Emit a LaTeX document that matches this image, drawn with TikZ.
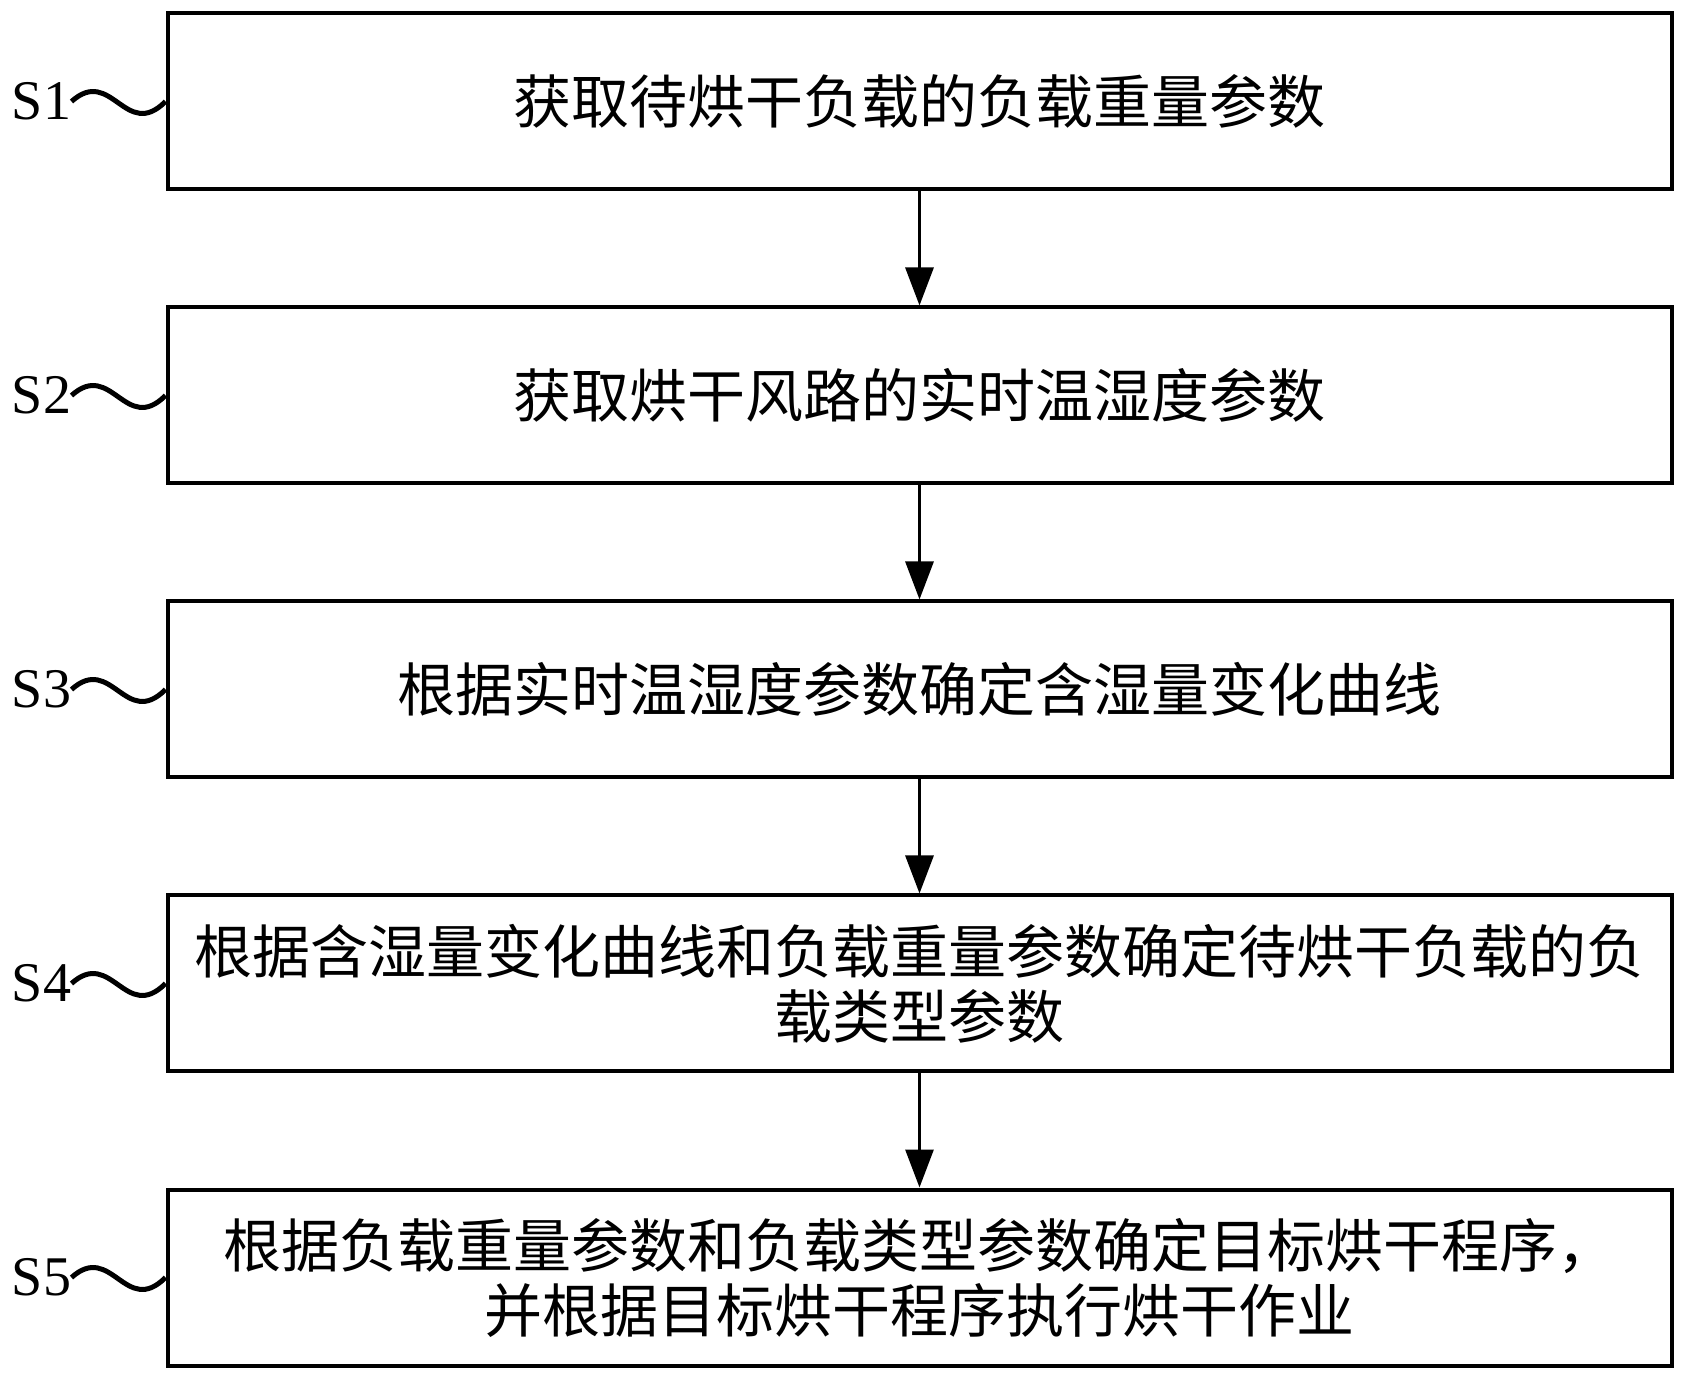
\documentclass[tikz,border=0pt]{standalone}
\usepackage{fontspec}
\setmainfont{Liberation Serif}
\newfontfamily\cjk{Noto Sans CJK SC}
\usetikzlibrary{positioning,arrows.meta}

\begin{document}
\begin{tikzpicture}[
  x=0.5pt, y=-0.5pt,
  stepbox/.style={
    rectangle, draw, line width=2pt,
    minimum width=752pt, minimum height=88pt,
    align=center, font=\cjk\fontsize{29}{32.5}\selectfont
  },
  steplabel/.style={inner sep=0pt, font=\fontsize{28}{28}\selectfont},
  node distance=57pt,
  flow/.style={line width=1.5pt, -{Triangle[length=19pt, width=14pt]}},
  wave/.style={line width=2.5pt}
]
\useasboundingbox (0,0) rectangle (1688,1384);

\node[stepbox] (b1) at (919.5,101.5) {获取待烘干负载的负载重量参数};
\node[stepbox, below=of b1] (b2) {获取烘干风路的实时温湿度参数};
\node[stepbox, below=of b2] (b3) {根据实时温湿度参数确定含湿量变化曲线};
\node[stepbox, below=of b3] (b4) {根据含湿量变化曲线和负载重量参数确定待烘干负载的负\\载类型参数};
\node[stepbox, below=of b4] (b5) {根据负载重量参数和负载类型参数确定目标烘干程序，\\并根据目标烘干程序执行烘干作业};

% arrows between steps
\foreach \i/\j in {1/2,2/3,3/4,4/5}
  \draw[flow] (b\i) -- (b\j);

% step labels
\foreach \i in {1,...,5} {
  \node[steplabel, left=47pt of b\i.west] (s\i) {S\i};
  \draw[wave] (s\i.east) .. controls +(20pt,18pt) and +(-20pt,-20pt) .. (b\i.west);
}

\end{tikzpicture}
\end{document}
